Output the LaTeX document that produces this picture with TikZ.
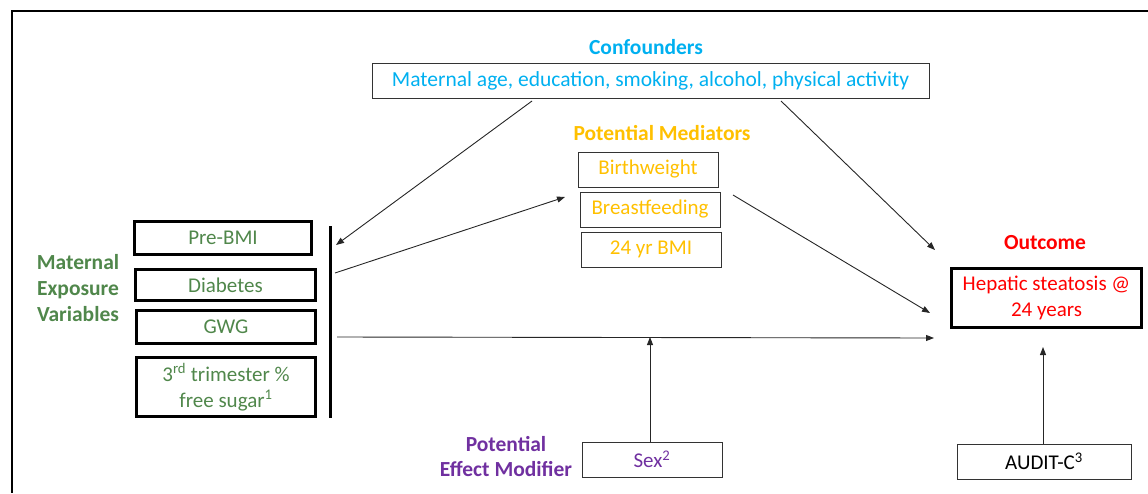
\documentclass[tikz,border=0pt]{standalone}
\usepackage{fontspec}
\setmainfont{Carlito}
\usetikzlibrary{arrows.meta}
\definecolor{cblue}{RGB}{0,176,240}
\definecolor{cyellow}{RGB}{255,192,0}
\definecolor{cred}{RGB}{255,0,0}
\definecolor{cpurple}{RGB}{112,48,160}
\definecolor{cgreen}{RGB}{80,135,75}
\begin{document}
\begin{tikzpicture}[x=1pt,y=-1pt,
  txt/.style={font=\fontsize{21}{26}\selectfont},
  thinbox/.style={draw=black!80, line width=1pt, inner sep=0pt, align=center, txt},
  thickbox/.style={draw=black, line width=3pt, inner sep=0pt, align=center, txt},
  title/.style={font=\bfseries\fontsize{21.5}{26}\selectfont, inner sep=0pt, align=center},
  arr/.style={draw=black!85, line width=0.9pt, -{Triangle[length=8pt,width=6pt]}}]
\useasboundingbox (0,0) rectangle (1148,493);
\draw[line width=2.5pt] (1148,11) -- (12,11) -- (12,493);

% confounders
\node[title, text=cblue] (tconf) at (646,47) {Confounders};
\node[thinbox, text=cblue, minimum width=557pt, minimum height=35pt, font=\fontsize{21.5}{26}\selectfont] (conf) at (650.5,80.5) {Maternal age, education, smoking, alcohol, physical activity};

% mediators
\node[title, text=cyellow] (tmed) at (662,133) {Potential Mediators};
\node[thinbox, text=cyellow, minimum width=140pt, minimum height=35pt] (bw) at (648,169.5) {Birthweight};
\node[thinbox, text=cyellow, minimum width=140pt, minimum height=35pt] (bf) at (650,209.5) {Breastfeeding};
\node[thinbox, text=cyellow, minimum width=140pt, minimum height=35pt] (bmi) at (651,249.5) {24 yr BMI};

% exposures
\node[title, text=cgreen] (texp) at (78,288) {Maternal\\Exposure\\Variables};
\node[thickbox, text=cgreen, minimum width=177pt, minimum height=33pt] (pre) at (223,238) {Pre-BMI};
\node[thickbox, text=cgreen, minimum width=180pt, minimum height=31pt] (dia) at (225.5,285) {Diabetes};
\node[thickbox, text=cgreen, minimum width=179pt, minimum height=33pt] (gwg) at (226,327) {GWG};
\node[thickbox, text=cgreen, minimum width=179pt, minimum height=59pt] (tri) at (226,387) {3\textsuperscript{rd} trimester \%\\free sugar\textsuperscript{1}};
\coordinate (bartop) at (330,226);
\coordinate (barbot) at (330,418);
\draw[line width=3pt] (bartop) -- (barbot);

% outcome
\node[title, text=cred] (tout) at (1045,243) {Outcome};
\node[thickbox, text=cred, minimum width=190pt, minimum height=59pt] (out) at (1046.5,298) {Hepatic steatosis @\\24 years};
\node[thinbox, text=black, minimum width=174pt, minimum height=35pt] (aud) at (1044,461.5) {AUDIT-C\textsuperscript{3}};

% modifier
\node[title, text=cpurple, font=\bfseries\fontsize{21.5}{25}\selectfont] (tmod) at (506,457) {Potential\\Effect Modifier};
\node[thinbox, text=cpurple, minimum width=140pt, minimum height=35pt] (sex) at (652,459.5) {Sex\textsuperscript{2}};

% connector end points
\coordinate (c1s) at (532,101);
\coordinate (c2s) at (781,101);
\coordinate (barA) at (336,245);
\coordinate (barB) at (335,273);
\coordinate (barC) at (337,337);
\coordinate (medin) at (565,197);
\coordinate (bfout) at (733,195);
\coordinate (o1) at (935,250);
\coordinate (o2) at (930,313);
\coordinate (o3) at (934,338);
\coordinate (sexin) at (650,337);
\coordinate (audin) at (1043,347);

\draw[arr] (c1s) -- (barA);
\draw[arr] (c2s) -- (o1);
\draw[arr] (barB) -- (medin);
\draw[arr] (bfout) -- (o2);
\draw[arr] (barC) -- (o3);
\draw[arr] (sex.north -| sexin) -- (sexin);
\draw[arr] (aud.north -| audin) -- (audin);
\end{tikzpicture}
\end{document}
